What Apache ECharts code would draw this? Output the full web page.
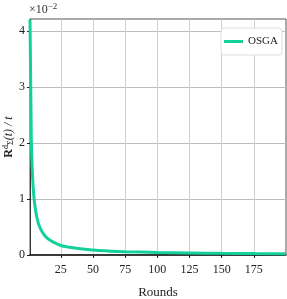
<!DOCTYPE html>
<html>
<head>
<meta charset="utf-8">
<script src="https://cdn.jsdelivr.net/npm/echarts@6/dist/echarts.min.js"></script>
<style>html,body{margin:0;padding:0;background:#fff}#c{width:287px;height:299px}</style>
</head>
<body>
<div id="c"></div>
<script>
// values in units of 1e-2
const rounds = [1, 2, 3, 4, 5, 6, 7, 8, 10, 12, 15, 20, 25, 30, 40, 50, 60, 75, 100, 125, 150, 175, 200];
const osga = [4.2, 2.1, 1.4, 1.05, 0.85, 0.71, 0.61, 0.53, 0.43, 0.36, 0.29, 0.22, 0.17, 0.145, 0.11, 0.088, 0.074, 0.06, 0.045, 0.036, 0.03, 0.026, 0.023];
const xTicks = [25, 50, 75, 100, 125, 150, 175];
const yTicks = [0, 1, 2, 3, 4];
const seriesName = 'OSGA';

const chart = echarts.init(document.getElementById('c'), null, {renderer: 'canvas'});
const font = 'Liberation Serif';
chart.setOption({
  animation: false,
  backgroundColor: '#fff',
  grid: {left: 30, right: 1, top: 19, bottom: 44, outerBoundsMode: 'none', containLabel: false, show: true, borderColor: '#555', borderWidth: 1, backgroundColor: 'transparent'},
  legend: {
    data: [seriesName], right: 5, top: 28, orient: 'vertical',
    backgroundColor: '#fff', borderColor: '#ddd', borderWidth: 1, borderRadius: 3,
    padding: [8, 4, 8, 3], itemWidth: 19, itemHeight: 3, itemGap: 6,
    textStyle: {fontFamily: font, fontSize: 11, color: '#222'},
    icon: 'rect'
  },
  xAxis: {
    type: 'value', min: 1, max: 200,
    name: 'Rounds', nameLocation: 'middle', nameGap: 31, nameMoveOverlap: false,
    nameTextStyle: {fontFamily: font, fontSize: 13, color: '#222'},
    axisLine: {show: true, lineStyle: {color: '#111', width: 1.5}},
    axisTick: {show: true, inside: false, length: 3, customValues: xTicks, lineStyle: {color: '#222'}},
    axisLabel: {customValues: xTicks, fontFamily: font, fontSize: 12, color: '#222', margin: 9},
    splitLine: {show: true, lineStyle: {color: '#cfcfcf', width: 1}}
  },
  yAxis: {
    type: 'value', min: 0, max: 4.21,
    name: '{b|R}{s|d}{s2|Σ}{i|(t) / t}', nameLocation: 'middle', nameGap: 15, nameRotate: 90, nameMoveOverlap: false,
    nameTextStyle: {fontFamily: font, fontSize: 12, color: '#222',
      rich: {b: {fontFamily: font, fontSize: 12, fontWeight: 'bold', color: '#222'},
             i: {fontFamily: font, fontSize: 12, fontStyle: 'italic', color: '#222'},
             s: {fontFamily: font, fontSize: 8, color: '#222', verticalAlign: 'top', padding: [0, 0, 5, 0]},
             s2: {fontFamily: font, fontSize: 8, color: '#222', padding: [5, 0, 0, 0]}}},
    axisLine: {show: true, lineStyle: {color: '#333', width: 1}},
    axisTick: {show: true, inside: false, length: 3, customValues: yTicks, lineStyle: {color: '#222'}},
    axisLabel: {customValues: yTicks, fontFamily: font, fontSize: 12, color: '#222', margin: 5},
    splitLine: {show: true, lineStyle: {color: '#bdbdbd', width: 1}}
  },
  graphic: [{
    type: 'text', left: 29, top: 2,
    style: {text: '{n|×10}{e|−2}', fontFamily: font, fontSize: 12, fill: '#333',
      rich: {n: {fontFamily: font, fontSize: 12, fill: '#333'},
             e: {fontFamily: font, fontSize: 9, fill: '#333', verticalAlign: 'top', padding: [0, 0, 6, 0]}}}
  }],
  series: [{
    name: seriesName, type: 'line', smooth: true, showSymbol: false,
    data: rounds.map((r, i) => [r, osga[i]]),
    lineStyle: {color: '#12d19b', width: 3},
    itemStyle: {color: '#12d19b'},
    clip: true
  }]
});
</script>
</body>
</html>
